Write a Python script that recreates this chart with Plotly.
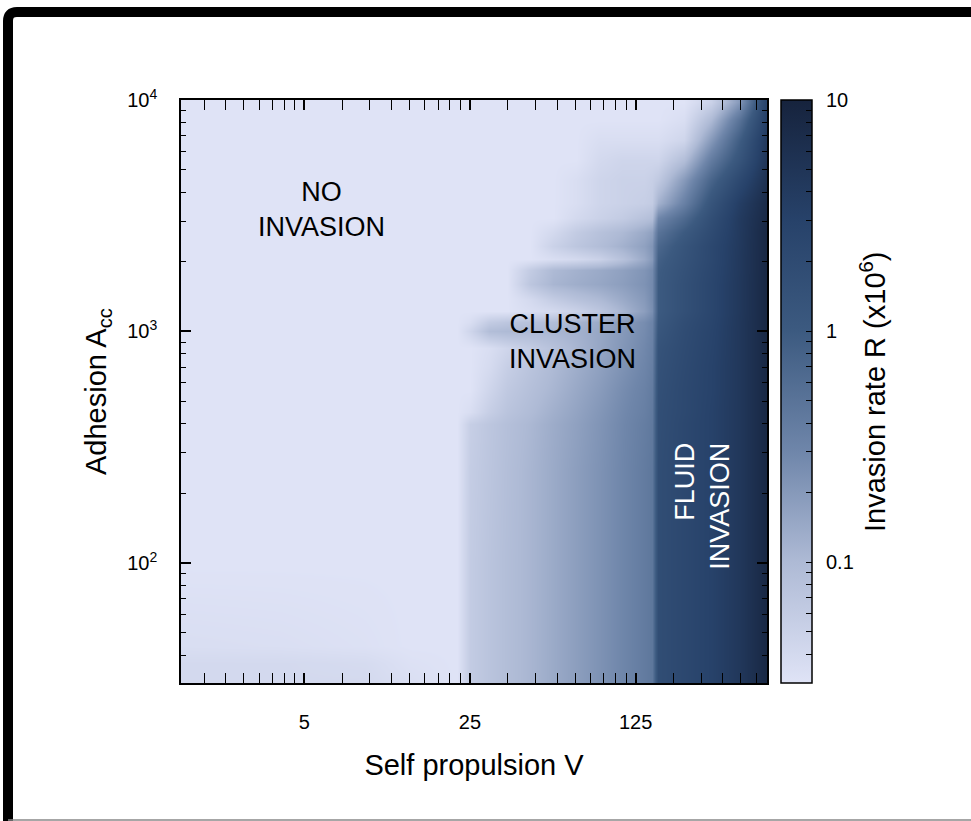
import numpy as np
import plotly.graph_objects as go

# ---- data ----
V = [1.6, 4, 9, 14, 22, 25, 30, 36, 45, 56, 70, 88, 110, 135, 146, 156, 200, 260, 340, 440]
A = [31, 37, 44, 100, 250, 400, 450, 560, 700, 850, 1000, 1100, 1230, 1380, 1600,
     1850, 2050, 2350, 2700, 3100, 3600, 4500, 5500, 6700, 8200, 9800]
R = [
    [.04, .04, .04, .034, .03, .06, .075, .09, .11, .14, .18, .23, .30, .40, .45, 1.8, 2.3, 3.0, 4.5, 8],
    [.04, .04, .038, .032, .03, .06, .075, .09, .11, .14, .18, .23, .30, .40, .45, 1.8, 2.3, 3.0, 4.5, 8],
    [.035, .034, .032, .03, .03, .06, .075, .09, .11, .14, .18, .23, .30, .40, .45, 1.8, 2.3, 3.0, 4.5, 8],
    [.03, .03, .03, .03, .03, .06, .075, .09, .11, .14, .18, .23, .30, .40, .45, 1.8, 2.3, 3.0, 4.5, 8],
    [.03, .03, .03, .03, .03, .058, .072, .088, .11, .14, .18, .23, .30, .40, .45, 1.8, 2.3, 3.0, 4.5, 8],
    [.03, .03, .03, .03, .03, .055, .07, .085, .105, .135, .17, .22, .29, .38, .43, 1.7, 2.3, 3.0, 4.5, 8],
    [.03, .03, .03, .03, .03, .035, .055, .075, .095, .125, .16, .21, .28, .36, .42, 1.7, 2.2, 3.0, 4.5, 8],
    [.03, .03, .03, .03, .03, .03, .045, .065, .085, .11, .145, .19, .26, .34, .40, 1.6, 2.2, 2.9, 4.5, 8],
    [.03, .03, .03, .03, .03, .03, .038, .055, .075, .10, .13, .17, .23, .31, .37, 1.5, 2.1, 2.9, 4.5, 8],
    [.03, .03, .03, .03, .03, .03, .035, .045, .06, .08, .11, .15, .21, .29, .35, 1.4, 2.0, 2.8, 4.5, 8],
    [.03, .03, .03, .03, .03, .045, .09, .10, .10, .11, .12, .15, .20, .27, .33, 1.2, 1.9, 2.7, 4.5, 8],
    [.03, .03, .03, .03, .03, .035, .06, .07, .08, .09, .11, .14, .19, .26, .32, 1.1, 1.8, 2.6, 4.5, 8],
    [.03, .03, .03, .03, .03, .03, .03, .03, .035, .04, .05, .07, .11, .18, .25, 1.0, 1.6, 2.5, 4.4, 8],
    [.03, .03, .03, .03, .03, .03, .03, .03, .04, .06, .08, .10, .14, .20, .27, 1.0, 1.6, 2.5, 4.4, 8],
    [.03, .03, .03, .03, .03, .03, .03, .03, .07, .11, .13, .15, .18, .23, .28, 1.0, 1.6, 2.5, 4.4, 8],
    [.03, .03, .03, .03, .03, .03, .03, .03, .06, .10, .12, .14, .17, .22, .27, .95, 1.5, 2.4, 4.3, 8],
    [.03, .03, .03, .03, .03, .03, .03, .03, .03, .035, .04, .05, .08, .14, .20, .85, 1.4, 2.3, 4.3, 8],
    [.03, .03, .03, .03, .03, .03, .03, .03, .03, .05, .07, .09, .12, .17, .22, .7, 1.3, 2.3, 4.2, 8],
    [.03, .03, .03, .03, .03, .03, .03, .03, .03, .04, .06, .08, .10, .14, .17, .5, 1.0, 2.0, 4.1, 8],
    [.03, .03, .03, .03, .03, .03, .03, .03, .03, .03, .04, .05, .06, .08, .09, .3, .65, 1.7, 4.0, 7.5],
    [.03, .03, .03, .03, .03, .03, .03, .03, .03, .03, .035, .045, .05, .055, .06, .12, .35, 1.3, 3.5, 7],
    [.03, .03, .03, .03, .03, .03, .03, .03, .03, .03, .035, .045, .05, .05, .055, .065, .2, .75, 2.2, 5.5],
    [.03, .03, .03, .03, .03, .03, .03, .03, .03, .03, .03, .04, .045, .045, .045, .045, .09, .4, 1.3, 4.5],
    [.03, .03, .03, .03, .03, .03, .03, .03, .03, .03, .03, .035, .035, .035, .035, .035, .045, .2, .9, 4],
    [.03, .03, .03, .03, .03, .03, .03, .03, .03, .03, .03, .03, .03, .03, .03, .03, .035, .1, .5, 3],
    [.03, .03, .03, .03, .03, .03, .03, .03, .03, .03, .03, .03, .03, .03, .03, .03, .03, .05, .2, 2.5],
]

x_ticks = [5, 25, 125]
x_ticktext = ["5", "25", "125"]
y_ticks = [100, 1000, 10000]
y_ticktext = ["10<sup>2</sup>", "10<sup>3</sup>", "10<sup>4</sup>"]
cb_ticks = [0.1, 1, 10]
cb_ticktext = ["0.1", "1", "10"]

R_MIN, R_MAX = 0.03, 10.0
X_RANGE = [1.51, 448]
Y_RANGE = [30.3, 10000]

# ---- styling ----
FONT = "Liberation Sans, Arial, Helvetica, sans-serif"
zmin, zmax = np.log10(R_MIN), np.log10(R_MAX)
stops_R = [0.03, 0.1, 0.3, 1, 3, 10]
stops_c = ["#dfe3f6", "#aebad5", "#6f86aa", "#3c5a80", "#27426a", "#16233d"]
colorscale = [[(np.log10(r) - zmin) / (zmax - zmin), c] for r, c in zip(stops_R, stops_c)]

# minor ticks (gnuplot-style, log base 5 axis: 8 minor ticks per factor of 5)
x_minor = [b * (1 + 4 * j / 9) for b in [1, 5, 25, 125] for j in range(1, 9)]
y_minor = [m * 10 ** k for k in [1, 2, 3] for m in range(2, 10)]
cb_minor = [m * 10 ** k for k in [-2, -1, 0] for m in range(2, 10)]
cb_vals = sorted(set(cb_minor + cb_ticks))
cb_vals = [v for v in cb_vals if R_MIN <= v <= R_MAX]

z = np.log10(np.array(R))

# page geometry (pixels)
W, H = 971, 821
PLOT_L, PLOT_R, PLOT_T, PLOT_B = 181, 767, 100, 683
CB_L, CB_R = 781, 812
ML, MR, MT, MB = PLOT_L, W - CB_R, PLOT_T, H - PLOT_B
PW, PH = W - ML - MR, H - MT - MB


def px2paper(px, py):
    return (px - ML) / PW, (H - MB - py) / PH


fig = go.Figure()
fig.add_trace(go.Heatmap(
    x=V, y=A, z=z, zmin=zmin, zmax=zmax, zsmooth="best",
    colorscale=colorscale,
    colorbar=dict(
        x=(CB_L - ML) / PW, xanchor="left", xpad=0, y=0.5, yanchor="middle",
        len=1, lenmode="fraction", ypad=0, thickness=CB_R - CB_L, thicknessmode="pixels",
        outlinewidth=1.5, outlinecolor="black",
        tickmode="array", tickvals=list(np.log10(cb_vals)), showticklabels=False,
        ticks="inside", ticklen=6, tickwidth=1.2, tickcolor="black",
    ),
    hoverinfo="skip",
))
# empty trace that carries the colour-bar label axis
fig.add_trace(go.Scatter(x=[], y=[], yaxis="y2", hoverinfo="skip", showlegend=False))

axis_common = dict(
    showgrid=False, zeroline=False, showline=True, linecolor="black", linewidth=1.5,
    mirror="allticks", ticks="inside", ticklen=10, tickwidth=1.5, tickcolor="black",
    tickfont=dict(family=FONT, size=20, color="black"),
)

TITLE_FONT = dict(family=FONT, size=29, color="black")

fig.update_layout(
    xaxis=dict(
        domain=[0, (PLOT_R - ML) / PW],
        type="log", range=[np.log10(X_RANGE[0]), np.log10(X_RANGE[1])],
        tickmode="array", tickvals=x_ticks, ticktext=x_ticktext,
        minor=dict(tickmode="array", tickvals=x_minor, ticks="inside", ticklen=5,
                   tickwidth=1.2, tickcolor="black"),
        ticklabelstandoff=20,
        title=dict(text="Self propulsion V", font=TITLE_FONT, standoff=23),
        **axis_common,
    ),
    yaxis=dict(
        type="log", range=[np.log10(Y_RANGE[0]), np.log10(Y_RANGE[1])],
        tickmode="array", tickvals=y_ticks, ticktext=y_ticktext,
        minor=dict(tickmode="array", tickvals=y_minor, ticks="inside", ticklen=5,
                   tickwidth=1.2, tickcolor="black"),
        ticklabelstandoff=18,
        title=dict(text="Adhesion A<sub>cc</sub>", font=TITLE_FONT, standoff=12),
        **axis_common,
    ),
    yaxis2=dict(
        overlaying="y", anchor="free", position=1.0, side="right",
        type="log", range=[zmin, zmax],
        tickmode="array", tickvals=cb_ticks, ticktext=cb_ticktext,
        ticks="", showline=False, showgrid=False, zeroline=False,
        ticklabelstandoff=13,
        tickfont=dict(family=FONT, size=20, color="black"),
    ),
)

ann_font = dict(family=FONT, size=27, color="black")
fig.add_annotation(x=np.log10(5.94), y=np.log10(3365), text="NO<br>INVASION",
                   showarrow=False, font=ann_font, align="center")
fig.add_annotation(x=np.log10(67.4), y=np.log10(906), text="CLUSTER<br>INVASION",
                   showarrow=False, font=ann_font, align="center")
fig.add_annotation(x=np.log10(240.6), y=np.log10(175), text="FLUID<br>INVASION",
                   showarrow=False, textangle=-90, align="right",
                   font=dict(family=FONT, size=27, color="white"))

# colour-bar title (rotated, to the right of the colour-bar labels)
cbx, cby = px2paper(893, 392)
fig.add_annotation(x=cbx, y=cby, xref="paper", yref="paper",
                   text="Invasion rate R (x10<sup>6</sup>)", showarrow=False,
                   textangle=-90, font=TITLE_FONT)

# outer frame: thick black left/top edge with rounded corner, thin grey bottom line
x0, ytop = px2paper(8, 12)
_, ybot = px2paper(8, 830)
xr, _ = px2paper(980, 12)
rx, ry = 9 / PW, 9 / PH
fig.add_shape(type="path", xref="paper", yref="paper",
              path=f"M {x0},{ybot} L {x0},{ytop - ry} Q {x0},{ytop} {x0 + rx},{ytop} L {xr},{ytop}",
              line=dict(color="black", width=10))
gx0, gy = px2paper(8, 820)
gx1, _ = px2paper(975, 820)
fig.add_shape(type="line", xref="paper", yref="paper", x0=gx0, x1=gx1, y0=gy, y1=gy,
              line=dict(color="#888888", width=1.5))

fig.update_layout(
    width=W, height=H,
    margin=dict(l=ML, r=MR, t=MT, b=MB, autoexpand=False),
    paper_bgcolor="white", plot_bgcolor="#dfe3f6",
    font=dict(family=FONT, color="black"),
    showlegend=False,
)

fig.write_html("out.html")
